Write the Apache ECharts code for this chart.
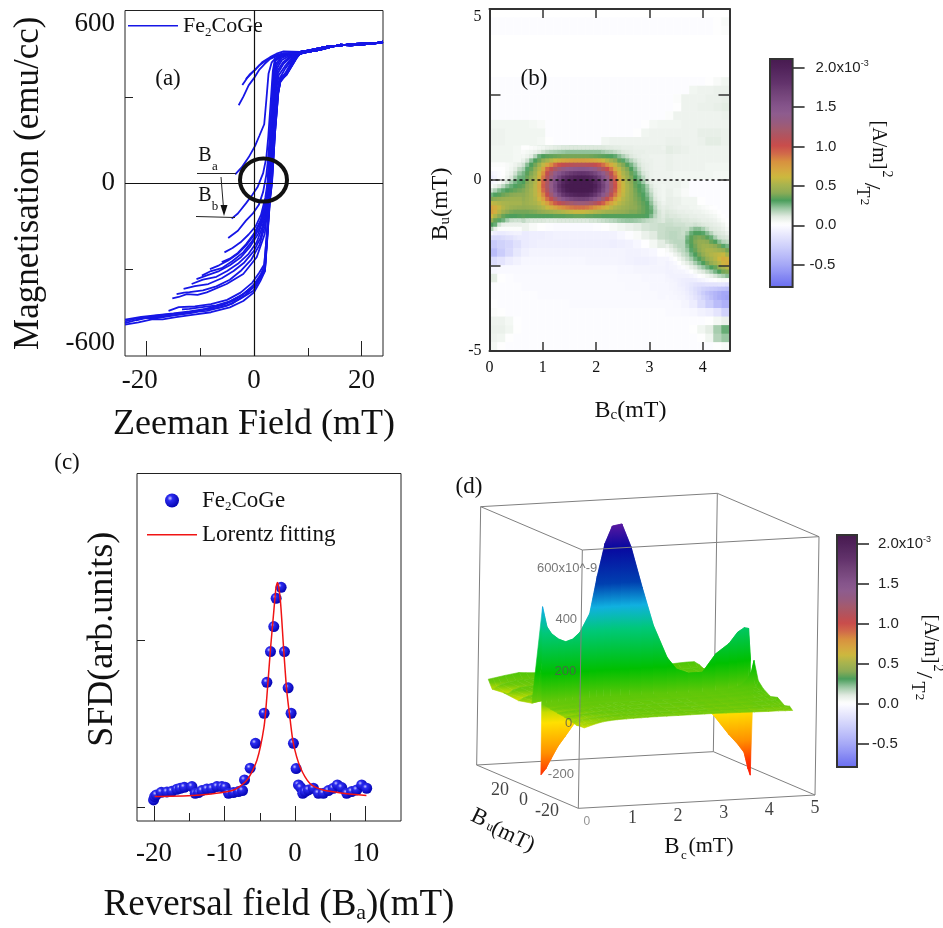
<!DOCTYPE html>
<html>
<head>
<meta charset="utf-8">
<title>Fe2CoGe FORC</title>
<script src="https://cdn.jsdelivr.net/npm/echarts@6/dist/echarts.min.js"></script>
<style>
html, body { margin: 0; padding: 0; background: #fff; }
#chart { width: 943px; height: 928px; }
</style>
</head>
<body>
<div id="chart"></div>
<script>
var SERIF = '"Liberation Serif", serif';
var SANS = '"Liberation Sans", sans-serif';

// (a) hysteresis, every reversal curve, shared saturation part at the end
var satTailA = [[8.6, 450], [10, 456], [12, 462], [14, 472], [16, 481], [18, 479], [20.5, 482], [22, 486], [24, 488]];
var satTailB = [[8.6, 456], [10, 461], [12, 468], [14, 476], [16, 478], [18, 483], [20.5, 486], [22, 484], [24, 492]];
var loopCurves = [
    [[-24, -486], [-22.5, -478], [-20.5, -468], [-18, -468], [-16, -462], [-12.5, -449], [-8.8, -443], [-5.1, -426], [-2.6, -402], [-0.1, -373], [1.1, -333], [2.04, -304], [2.54, -176], [2.97, -59], [3.35, 0], [3.9, 173], [4.52, 313], [4.96, 359], [6.07, 377], [7.93, 435]],
    [[-24, -474], [-21, -464], [-18, -458], [-15, -452], [-12, -445], [-9, -436], [-6, -424], [-3.5, -405], [-1, -372], [0.5, -342], [1.6, -312], [2.04, -298], [2.5, -170], [2.95, -50], [3.3, 10], [3.85, 178], [4.45, 318], [4.9, 362], [6, 382], [7.8, 436]],
    [[-24, -480], [-22, -470], [-19, -462], [-16.5, -456], [-14, -452], [-11, -448], [-8, -432], [-5, -415], [-2.5, -392], [-0.5, -362], [1, -330], [2, -302], [2.5, -172], [2.93, -55], [3.32, 5], [3.88, 175], [4.5, 315], [4.95, 360], [6.05, 380], [7.9, 436]],
    [[-24, -491], [-21.5, -483], [-19, -473], [-17, -473], [-14.5, -465], [-11.5, -457], [-8, -448], [-4.5, -431], [-2, -409], [0, -379], [1.2, -339], [2.02, -306], [2.52, -176], [2.96, -58], [3.33, 2], [3.9, 172], [4.5, 312], [4.94, 358], [6, 376], [7.9, 434]],
    [[-22, -476], [-19.5, -466], [-17, -462], [-14.5, -458], [-12, -452], [-9.5, -440], [-6.5, -432], [-4, -418], [-1.5, -386], [0.2, -356], [1.3, -322], [2, -300], [2.48, -168], [2.9, -48], [3.28, 12], [3.84, 180], [4.42, 318], [4.88, 364], [6, 384], [7.7, 437]],
    [[-15.9, -443], [-14, -430], [-11, -428], [-8, -420], [-5, -405], [-2.5, -380], [-0.3, -345], [1, -310], [1.9, -282], [2.45, -170], [2.9, -50], [3.25, 10], [3.8, 178], [4.4, 305], [4.85, 350], [6, 378], [7.8, 433]],
    [[-13.4, -438], [-12, -436], [-10, -431], [-7, -424], [-4.5, -410], [-2, -385], [0, -352], [1.2, -318], [1.9, -290], [2.4, -170], [2.85, -45], [3.2, 15], [3.75, 180], [4.35, 310], [4.8, 355], [6, 385], [7.6, 436]],
    [[-15.2, -400], [-14, -395], [-12.5, -385], [-10.5, -388], [-8.8, -379], [-5.1, -350], [-2, -315], [0.5, -257], [2, -176], [2.55, -83], [2.8, -20], [3.15, 40], [3.7, 185], [4.3, 300], [4.8, 350], [6, 388], [7.5, 438]],
    [[-14.4, -385], [-13, -380], [-12, -378], [-9.5, -372], [-7, -358], [-4.5, -335], [-2.5, -305], [-0.5, -265], [1, -215], [2, -150], [2.5, -65], [3.05, 40], [3.6, 190], [4.2, 305], [4.7, 362], [5.8, 398], [7.4, 438]],
    [[-13.1, -367], [-11, -357], [-8.5, -350], [-6, -330], [-3.8, -305], [-1.8, -275], [0, -235], [1.2, -190], [2, -130], [2.5, -50], [3, 40], [3.55, 195], [4.1, 320], [4.6, 375], [5.7, 405], [7.2, 440]],
    [[-11.6, -350], [-9.5, -335], [-7, -325], [-5, -305], [-3, -280], [-1, -245], [0.5, -205], [1.6, -150], [2.4, -60], [2.95, 40], [3.5, 200], [4, 330], [4.5, 385], [5.5, 415], [7, 442]],
    [[-10.7, -333], [-8.5, -318], [-6.5, -305], [-4.5, -285], [-2.5, -258], [-0.8, -222], [0.8, -175], [1.9, -115], [2.45, -40], [2.9, 40], [3.45, 205], [3.9, 335], [4.4, 392], [5.4, 420], [7, 444]],
    [[-9.7, -321], [-8, -305], [-6, -295], [-4, -270], [-2, -240], [-0.3, -200], [1, -155], [2, -95], [2.4, -30], [2.85, 50], [3.4, 210], [3.8, 340], [4.3, 400], [5.2, 428], [6.8, 445]],
    [[-8.2, -298], [-6.5, -285], [-4.8, -268], [-3, -245], [-1.3, -212], [0.2, -175], [1.4, -125], [2.2, -60], [2.6, 0], [2.85, 60], [3.35, 215], [3.75, 348], [4.2, 408], [5.1, 434], [6.6, 447]],
    [[-6, -274], [-4.5, -262], [-3, -242], [-1.5, -212], [0, -175], [1.2, -130], [2, -80], [2.5, -15], [2.8, 70], [3.3, 225], [3.7, 355], [4.1, 415], [5, 438], [6.5, 448]],
    [[-5.5, -240], [-4, -225], [-2.5, -205], [-1, -178], [0.3, -150], [1.3, -110], [2.1, -50], [2.5, 0], [2.75, 80], [3.25, 235], [3.6, 365], [4, 425], [5, 442], [6.5, 450]],
    [[-4.8, -190], [-3, -165], [-1.5, -130], [-0.2, -105], [0.9, -75], [1.7, -30], [2.3, 30], [2.7, 100], [3.2, 250], [3.55, 375], [3.95, 430], [5, 445], [6.5, 450]],
    [[-4.15, -123], [-3, -105], [-1.5, -70], [-0.3, -40], [0.7, -12], [1.7, 35], [2.3, 90], [2.65, 160], [3.1, 280], [3.5, 390], [3.9, 432], [5.5, 448]],
    [[-3.5, 31], [-2.3, 55], [-1, 90], [0.2, 130], [1, 165], [1.9, 205], [2.3, 290], [2.7, 380], [3.3, 420], [3.9, 432], [5.5, 450]],
    [[-2.85, 271], [-2, 300], [-1, 340], [0, 365], [1, 395], [2, 415], [3, 432], [4, 440], [5.5, 450]],
    [[-2.17, 341], [-1.3, 365], [-0.3, 385], [1, 410], [2.5, 430], [4, 444], [5.5, 452]],
    [[-1.5, 362], [-0.7, 380], [0.3, 395], [1.5, 420], [3, 438], [4.2, 450], [5.5, 458]]
];

// (b) field distribution, rows top to bottom from Bu 4.875 down to -4.875, unit 1e-5, null = blank
var bcCells = ['0.075', '0.225', '0.375', '0.525', '0.675', '0.825', '0.975', '1.125', '1.275', '1.425', '1.575', '1.725', '1.875', '2.025', '2.175', '2.325', '2.475', '2.625', '2.775', '2.925', '3.075', '3.225', '3.375', '3.525', '3.675', '3.825', '3.975', '4.125', '4.275', '4.425'];
var buCells = ['4.875', '4.625', '4.375', '4.125', '3.875', '3.625', '3.375', '3.125', '2.875', '2.625', '2.375', '2.125', '1.875', '1.625', '1.375', '1.125', '0.875', '0.625', '0.375', '0.125', '-0.125', '-0.375', '-0.625', '-0.875', '-1.125', '-1.375', '-1.625', '-1.875', '-2.125', '-2.375', '-2.625', '-2.875', '-3.125', '-3.375', '-3.625', '-3.875', '-4.125', '-4.375', '-4.625', '-4.875'];
var sfdRows = [
    null,
    [0,0,0,0,0,0,0,0,0,0,0,0,0,0,0,0,0,0,0,0,0,0,0,0,0,0,0,0,2,4],
    [0,0,0,0,0,0,0,0,0,0,0,0,0,0,0,0,0,0,0,0,0,0,0,0,0,0,0,0,2,3],
    null,
    null,
    null,
    null,
    null,
    [0,0,0,0,0,0,0,0,0,0,0,0,0,0,0,0,0,0,0,0,0,0,0,0,0,0,0,2,4,6],
    [0,0,0,0,0,0,0,0,0,0,0,0,0,0,0,0,0,0,0,0,0,0,0,0,0,6,7,7,8,8],
    [0,0,0,0,0,0,0,0,0,0,0,0,0,0,0,0,0,0,0,0,0,0,0,3,7,7,7,8,8,9],
    [0,0,0,0,0,0,0,0,0,0,0,0,0,0,0,0,0,0,0,0,0,0,0,2,7,7,8,8,9,10],
    [0,0,0,0,0,0,0,0,0,0,0,0,0,0,0,0,0,0,0,0,0,0,3,7,7,7,7,7,7,8],
    [6,6,6,6,6,5,4,0,0,0,0,0,0,0,0,0,0,0,0,2,5,6,6,6,7,7,7,7,7,7],
    [7,7,6,6,6,6,6,0,0,0,0,0,0,0,0,0,0,0,2,6,7,7,7,7,7,7,9,9,9,8],
    [7,7,6,6,6,6,5,2,0,0,0,0,0,0,6,7,7,7,7,7,7,7,8,8,7,7,8,10,10,8],
    [6,6,6,5,3,12,15,16,18,20,22,20,20,18,14,12,10,9,8,8,9,10,10,9,8,7,7,7,7,7],
    [6,6,6,5,11,25,32,38,42,45,48,48,48,45,40,33,22,14,9,8,8,8,8,7,7,7,7,7,7,7],
    [2,2,5,10,25,33,42,58,90,115,125,128,125,115,90,62,42,30,15,9,8,8,8,7,7,7,7,6,6,6],
    [-8,-2,8,18,32,45,65,100,150,178,195,200,195,178,150,108,70,52,38,20,10,8,7,6,6,6,6,6,5,5],
    [8,15,25,32,40,52,85,125,170,200,212,212,208,192,165,120,78,58,45,30,17,10,7,7,5,0,0,0,0,0],
    [28,34,38,42,46,55,82,120,155,185,200,205,200,185,155,115,78,58,46,33,18,12,8,6,4,0,0,0,0,0],
    [55,52,48,50,52,58,68,90,108,120,125,128,125,118,105,85,66,55,45,33,20,14,9,8,6,6,2,0,0,0],
    [72,58,45,42,43,45,48,52,55,58,60,60,60,58,55,52,50,46,42,34,20,15,11,9,8,7,6,5,1,0],
    [55,42,30,30,30,30,28,28,28,30,30,30,30,30,30,30,30,30,30,28,20,16,12,11,10,9,8,6,4,1],
    [30,10,8,8,7,4,2,0,-1,-1,-1,-1,-1,0,2,4,6,8,10,13,14,15,14,13,12,12,10,9,7,4],
    [-10,-16,-18,-14,-10,-8,-8,-7,-6,-6,-6,-6,-6,-6,-6,-6,-3,0,4,8,11,15,17,15,14,25,28,22,14,10],
    [-30,-25,-22,-16,-10,-8,-7,-7,-7,-7,-7,-7,-7,-7,-7,-8,-7,-6,-3,1,5,10,15,17,18,33,38,40,36,30],
    [-38,-28,-20,-12,-7,-5,-5,-5,-5,-5,-5,-5,-5,-5,-5,-5,-5,-6,-6,-5,-3,1,6,12,16,28,40,48,52,55],
    [-18,-14,-9,-6,-3,-3,-3,-3,-3,-3,-3,-3,-4,-4,-4,-4,-5,-6,-7,-7,-6,-4,-1,3,9,15,24,38,50,62],
    [-3,-2,-2,-2,-2,-2,-2,-2,-2,-2,-2,-2,-2,-2,-2,-2,-3,-3,-4,-4,-5,-5,-5,-3,0,4,9,15,30,40],
    [10,2,0,-1,-1,-1,-1,-1,-1,-1,-1,-1,-1,-1,-1,-1,-2,-2,-2,-3,-3,-3,-4,-5,-8,-6,-2,2,8,15],
    [0,0,0,0,-1,-1,-1,-1,-1,-1,-1,-1,-1,-1,-1,-1,-1,-2,-2,-2,-3,-3,-4,-5,-8,-14,-18,-18,-18,-20],
    [0,0,0,0,0,0,-1,-1,-1,-1,-1,-1,-1,-1,-1,-1,-1,-1,-1,-2,-2,-3,-4,-5,-7,-14,-26,-34,-42,-45],
    [1,0,0,0,0,0,0,0,0,0,-1,-1,-1,-1,-1,-1,-1,-1,-1,-1,-1,-1,-1,-2,-4,-9,-18,-28,-38,-45],
    [3,2,0,0,0,0,0,0,0,0,0,0,0,0,0,0,0,0,0,0,0,0,-1,-1,-2,-3,-6,-8,-14,-25],
    [7,7,5,1,0,0,0,0,0,0,0,0,0,0,0,0,0,0,0,0,0,0,0,0,0,0,0,2,5,8],
    [8,8,6,2,0,0,0,0,0,0,0,0,0,0,0,0,0,0,0,0,0,0,0,0,0,2,6,10,20,28],
    [7,6,2,0,0,0,0,0,0,0,0,0,0,0,0,0,0,0,0,0,0,0,0,0,0,0,2,6,18,22],
    [5,2,0,0,0,0,0,0,0,0,0,0,0,0,0,0,0,0,0,0,0,0,0,0,0,0,0,0,2,4]
];
// finer readings where the picture changes fast
// central lobe: Bc 0.6 to 3.3 in 36 cells, Bu 1 to -1.25 in 18 cells
var sfdLobeRows = [
    [2,2,3,4,5,6,8,9,10,11,12,12,12,12,12,12,12,12,12,12,12,11,11,10,10,9,9,9,8,8,8,8,8,8,8,7],
    [4,5,6,8,11,14,17,19,20,21,22,23,23,23,23,23,23,23,23,23,21,19,18,16,14,12,11,10,9,9,9,8,8,8,8,8],
    [5,7,10,18,28,32,34,35,36,37,38,38,38,38,38,38,38,37,36,35,34,33,31,29,24,19,15,12,10,9,8,8,7,7,7,7],
    [8,14,24,32,37,44,50,56,62,66,70,72,74,75,75,75,74,72,70,66,61,55,49,43,35,30,24,18,14,11,9,8,8,7,7,7],
    [14,24,32,38,48,58,70,82,92,100,105,108,110,112,112,112,110,108,104,98,90,80,68,58,48,40,33,26,19,13,10,9,8,7,7,7],
    [20,30,36,44,55,72,92,106,118,128,135,140,144,146,148,148,146,142,136,126,114,102,88,70,58,48,40,32,24,16,11,9,8,7,7,7],
    [26,34,40,48,60,82,105,122,138,150,160,168,174,178,180,180,178,172,164,152,140,124,106,84,64,52,44,36,28,20,13,10,8,7,7,7],
    [28,37,43,51,65,88,112,130,150,166,180,190,196,200,202,202,200,194,184,170,154,134,114,92,70,56,47,39,32,25,17,11,8,7,7,7],
    [32,40,46,54,70,94,116,136,158,178,194,204,210,214,216,216,214,208,196,182,164,142,120,98,74,59,50,42,35,29,21,13,9,7,7,7],
    [36,42,48,56,72,96,118,138,162,184,200,210,216,220,222,222,220,214,202,186,168,146,122,100,76,60,52,44,36,32,28,20,12,8,7,6],
    [40,44,50,56,70,92,114,134,158,178,194,206,212,216,218,218,216,208,196,180,162,140,118,96,74,60,52,45,38,33,29,22,14,9,7,6],
    [42,46,50,56,66,84,104,124,144,162,178,188,194,198,200,200,198,190,178,164,146,128,108,88,70,58,51,45,39,35,31,25,17,10,7,6],
    [44,47,50,54,62,74,90,106,122,136,150,158,164,168,170,170,168,160,150,138,122,106,90,74,62,55,50,45,40,37,33,28,20,12,8,6],
    [46,48,50,52,56,64,74,86,96,106,112,118,122,126,128,128,126,120,114,106,94,82,72,62,56,52,48,44,41,38,35,31,23,14,10,7],
    [44,45,46,47,50,54,60,66,72,78,82,85,88,90,90,90,88,85,80,75,68,62,57,53,50,48,46,43,42,39,36,33,27,17,11,9],
    [38,38,39,40,42,44,46,48,50,52,54,56,58,60,60,60,58,56,54,52,50,48,47,46,45,44,42,40,40,38,36,33,29,19,13,10],
    [34,33,33,33,33,33,33,33,34,34,34,35,35,36,36,36,35,35,34,34,33,33,33,33,33,33,33,33,33,33,33,31,25,17,13,11],
    [16,13,12,12,12,12,11,11,11,12,12,12,12,12,12,12,12,13,13,14,15,16,17,18,20,21,22,22,21,20,18,16,15,14,13,12]
];
// left ridge: Bc 0 to 0.6 in 8 cells, Bu 0.5 to -1.75 in 18 cells
var sfdLeftRows = [
    [3,3,3,3,4,5,7,10],
    [1,1,1,2,4,6,10,16],
    [-4,-2,0,2,5,8,14,22],
    [-8,-4,0,3,7,12,20,27],
    [-4,-1,3,7,13,20,26,30],
    [4,7,12,17,24,28,31,34],
    [14,19,25,29,32,34,36,38],
    [27,31,34,37,39,41,42,43],
    [40,42,44,46,47,48,48,48],
    [58,56,54,52,51,50,50,50],
    [72,68,60,54,50,47,46,45],
    [74,66,55,47,42,39,38,38],
    [62,52,42,36,33,32,32,33],
    [45,36,30,27,20,15,14,14],
    [32,28,14,9,8,8,8,8],
    [18,8,3,3,3,3,3,3],
    [-4,-8,-10,-10,-8,-7,-6,-6],
    [-18,-20,-20,-18,-16,-15,-12,-10]
];
// right lobe: Bc 3.3 to 4.5 in 16 cells, Bu -0.75 to -3.5 in 22 cells
var sfdRightRows = [
    [10,9,8,7,7,7,6,6,5,4,3,2,1,0,0,0],
    [12,11,10,9,9,8,8,7,7,6,5,4,3,1,0,0],
    [13,12,12,11,10,10,9,9,8,8,7,6,5,3,1,0],
    [14,14,13,13,12,12,11,11,10,9,9,8,7,5,3,1],
    [15,15,14,14,14,13,13,14,13,12,11,10,9,8,6,3],
    [16,16,16,16,15,15,20,24,24,20,15,12,11,10,8,5],
    [16,17,17,16,15,20,28,32,32,30,24,18,13,12,11,8],
    [16,17,17,16,16,26,34,38,40,38,34,28,20,14,13,12],
    [14,16,17,17,17,28,34,40,44,44,42,36,32,24,18,16],
    [8,12,15,17,17,25,33,38,44,48,48,46,42,38,30,26],
    [4,8,12,15,17,22,30,36,42,48,52,52,50,48,45,38],
    [0,3,7,11,15,18,26,32,38,44,50,54,56,58,60,50],
    [-4,-1,2,6,11,15,20,27,33,38,45,50,55,62,68,65],
    [-6,-4,-2,2,6,10,14,20,26,32,38,44,50,56,64,68],
    [-6,-5,-4,-2,0,4,8,12,17,22,27,32,36,44,50,56],
    [-6,-6,-5,-5,-4,-2,1,5,9,12,16,20,26,32,38,40],
    [-5,-6,-6,-6,-6,-6,-4,-2,1,3,6,9,13,17,20,24],
    [-4,-5,-6,-7,-8,-9,-9,-8,-6,-4,-2,0,2,3,4,3],
    [-3,-4,-5,-7,-8,-10,-12,-14,-15,-15,-14,-14,-14,-13,-14,-16],
    [-3,-4,-5,-6,-7,-10,-13,-17,-20,-24,-26,-28,-30,-32,-34,-36],
    [-3,-3,-4,-5,-6,-8,-12,-16,-22,-28,-34,-38,-42,-46,-50,-50],
    [-2,-3,-3,-4,-5,-7,-10,-14,-18,-24,-30,-36,-42,-47,-50,-52]
];
var colorbarColors = ['#6a6ef0', '#7f82f2', '#9497f5', '#a8abf7', '#babcf9', '#cbcdfb', '#dcddfc', '#eeeefe', '#ffffff', '#dfe9df', '#9cc7a4', '#4a9e5c', '#8dab55', '#a8b44e', '#cdb83e', '#d6a540', '#d8903f', '#d1684a', '#c94c4b', '#b5525a', '#a55a6c', '#965b80', '#8e5c8e', '#85548b', '#7a4a80', '#6e3f75', '#62326b', '#582a62', '#4f2158', '#471b50'];

// (c) switching field distribution
var sfdField = [-20.05, -19.9, -19.67, -18.96, -18.16, -17.45, -16.75, -16.27, -15.7, -14.62, -14.15, -13.68, -13.2, -12.5, -11.8, -11.08, -10.38, -9.9, -9.43, -8.73, -8.02, -7.45, -7.17, -6.37, -5.61, -4.39, -4, -3.49, -3.02, -2.69, -1.98, -1.51, -0.99, -0.57, -0.24, 0.14, 0.47, 0.8, 1.08, 1.42, 1.89, 2.59, 3.3, 4, 4.72, 5.42, 5.99, 6.6, 7.31, 8.02, 8.73, 9.43, 10.14];
var sfdValue = [0.046, 0.066, 0.076, 0.092, 0.094, 0.098, 0.11, 0.116, 0.122, 0.126, 0.086, 0.09, 0.102, 0.112, 0.114, 0.126, 0.126, 0.122, 0.086, 0.09, 0.096, 0.102, 0.166, 0.236, 0.385, 0.565, 0.75, 0.934, 1.084, 1.253, 1.319, 0.934, 0.717, 0.565, 0.385, 0.234, 0.136, 0.12, 0.086, 0.096, 0.106, 0.116, 0.086, 0.086, 0.102, 0.116, 0.136, 0.12, 0.086, 0.096, 0.106, 0.136, 0.116];
var fitField = [-19.9, -13.5, -8.7, -6.8, -5.4, -4.4, -4, -3.5, -3, -2.7, -2.5, -2.1, -1.65, -1.2, -0.7, -0.25, 0.7, 2.1, 4, 6.8, 10.1];
var fitValue = [0.066, 0.076, 0.106, 0.166, 0.285, 0.485, 0.665, 0.945, 1.185, 1.32, 1.347, 1.245, 0.966, 0.706, 0.525, 0.385, 0.245, 0.145, 0.105, 0.086, 0.072];

// (d) surface seen in the 3D view, z in 1e-9, rows back to front
var surfBc = [0, 0.1, 0.2, 0.35, 0.5, 0.65, 0.8, 1, 1.15, 1.3, 1.45, 1.65, 1.85, 2.1, 2.35, 2.65, 2.85, 3.1, 3.4, 3.7, 4, 4.2, 4.35, 4.45, 4.5];
var ridgeBu = [-9.6, -9.6, -9.6, -9.6, -9.6, -9.6, -9.6, -9.6, -9.6, -9.6, -9.6, -9.6, -9.6, -9.6, -9.6, -9.6, -9.6, -9.6, -9.6, -8.8, -8, -7.2, -6.8, -6.4, -6.4];
var troughBu = [-10.4, -10.4, -10.4, -10.4, -10.4, -10.4, -10.4, -10.4, -10.4, -10.4, -10.4, -10.4, -10.4, -10.4, -10.4, -10.4, -10.4, -10.4, -10.4, -9.6, -8.8, -8.4, -8, -7.6, -7.6];
var lipBu = [-11.2, -11.2, -11.2, -11.2, -11.2, -11.2, -11.2, -11.2, -11.2, -11.2, -11.2, -11.2, -11.2, -11.2, -11.2, -11.2, -11.2, -11.2, -11.2, -10.8, -10.4, -10, -9.6, -9.2, -9.2];
var surfRows = [
    { bu: 32, z: [19, 22, 25, 30, 34, 38, 36, 34, 30, 28, 26, 25, 24, 22, 20, 20, 22, 25, 30, 36, 40, 42, 42, 30, 11] },
    { bu: 28.8, z: [-13, -5, 5, 10, 15, 18, 18, 18, 16, 15, 15, 14, 14, 14, 14, 14, 15, 16, 18, 22, 24, 26, 26, 22, 14] },
    { bu: 20, z: [-8, -13, 0, 8, 12, 14, 15, 15, 14, 14, 13, 13, 12, 12, 12, 12, 14, 16, 18, 20, 22, 24, 24, 22, 18] },
    { bu: 8, z: [-14, -5, 2, 8, 10, 12, 12, 12, 12, 12, 12, 12, 12, 12, 12, 12, 12, 12, 14, 16, 18, 18, 18, 16, 14] },
    { bu: -2.4, z: [-2, 2, 5, 8, 10, 12, 14, 20, 30, 40, 45, 45, 40, 30, 22, 18, 15, 15, 18, 25, 30, 35, 35, 30, 20] },
    { bu: ridgeBu, z: [387, 308, 280, 258, 246, 255, 280, 350, 495, 618, 684, 690, 600, 440, 290, 163, 116, 98, 98, 165, 200, 240, 255, 250, 130] },
    { bu: troughBu, z: [-262, -240, -205, -155, -118, -80, -45, -15, 0, 5, 5, 5, 5, 5, 5, 5, 5, 5, -20, -82, -150, -190, -225, -290, -316] },
    { bu: lipBu, z: [12, 14, 16, 18, 20, 22, 24, 26, 28, 28, 28, 28, 28, 26, 26, 24, 24, 24, 24, 26, 30, 40, 60, 90, 132] },
    { bu: -12.8, z: [10, 12, 14, 16, 18, 20, 20, 22, 22, 22, 22, 22, 22, 22, 22, 20, 20, 20, 20, 22, 26, 30, 34, 36, 60] },
    { bu: -16.8, z: [6, 8, 10, 12, 14, 16, 18, 18, 18, 18, 18, 18, 18, 18, 18, 18, 18, 18, 18, 20, 22, 25, 28, 30, 38] },
    { bu: -22.4, z: [2, 4, 6, 8, 10, 12, 14, 14, 16, 16, 16, 16, 16, 16, 16, 16, 14, 14, 14, 15, 18, 20, 22, 24, 20] },
    { bu: -28, z: [-2, 0, 2, 5, 8, 10, 12, 12, 14, 14, 14, 14, 14, 12, 12, 12, 12, 12, 12, 14, 15, 16, 16, 16, 28] },
    { bu: -33.6, z: [-8, -5, -2, 2, 5, 7, 9, 10, 11, 11, 11, 11, 11, 10, 10, 10, 10, 10, 10, 11, 12, 12, 12, 12, 8] },
    { bu: -37.6, z: [-14, -12, -8, -4, 0, 3, 5, 6, 7, 7, 7, 7, 7, 7, 8, 8, 8, 7, 7, 6, 6, 6, 6, 6, 14] },
    { bu: -40, z: [-12, -20, -14, -6, 0, 3, 5, 6, 7, 7, 8, 8, 8, 8, 8, 8, 8, 7, 6, 5, 4, 4, 3, 3, 2] }
];
var surfStopZ = [-330, -262, -178, -62, -20, 10, 128, 283, 373, 463, 600, 700];
var surfStopColor = ['#ff1000', '#ff3000', '#ff9000', '#ffe000', '#c8dc00', '#6cc80a', '#00c000', '#00c878', '#10b0e0', '#0040b0', '#0808a0', '#601aa0'];
var boxEdgesBack = [[0, 40, -330, 0, 40, 670], [5, 40, -330, 5, 40, 670], [0, 40, -330, 5, 40, -330], [0, 40, -330, 0, -40, -330], [5, 40, -330, 5, -40, -330]];
var boxEdgesFront = [[0, 40, 670, 5, 40, 670], [0, 40, 670, 0, -40, 670], [5, 40, 670, 5, -40, 670], [0, -40, -330, 0, -40, 670], [5, -40, -330, 5, -40, 670], [0, -40, 670, 5, -40, 670], [0, -40, -330, 5, -40, -330]];
var zTicks = [-200, 0, 200, 400, 600];
var bcTicks = [0, 1, 2, 3, 4, 5];
var buTicks = [20, 0, -20];

// box of panel d as drawn: Bc to the right, Bu to the back, z upwards
function project(bc, bu, z) {
    var a = bc / 5, b = (bu + 40) / 80, c = (z + 330) / 1000;
    return [710 * a - 305 * b + 12 * c, 40 * a + 130 * b + 775 * c];
}

var subRich = function (size, sub) {
    return { s: { fontFamily: SERIF, fontSize: sub, verticalAlign: 'bottom', padding: [Math.round(size * 0.28), 0, 0, 0], lineHeight: size, color: '#111' } };
};
var nameStyle = function (size, sub, padding) {
    return { fontFamily: SERIF, fontSize: size, color: '#111', padding: padding || 0, rich: subRich(size, sub) };
};
var tickFont = function (size, margin) {
    return { fontFamily: SERIF, fontSize: size, color: '#111', margin: margin };
};

var grids = [
    { left: 125, top: 10.5, width: 258, height: 345.5, show: true, borderColor: '#222', borderWidth: 1 },
    { left: 489.5, top: 9, width: 240, height: 342 },
    { left: 137, top: 473.5, width: 264, height: 347.5, show: true, borderColor: '#222', borderWidth: 1 },
    { left: 470, top: 490, width: 350, height: 330 },
    { left: 770, top: 59, width: 22.6, height: 228 },
    { left: 837, top: 535, width: 20, height: 232 },
    { left: 521.5, top: 145.8, width: 144, height: 76.95 },
    { left: 489.5, top: 162.9, width: 32, height: 76.95 },
    { left: 665.5, top: 205.65, width: 64, height: 94.05 }
];

var hiddenValue = function (grid, min, max) {
    return { type: 'value', gridIndex: grid, min: min, max: max, show: false };
};
var cellNames = function (n) {
    var names = [];
    for (var i = 0; i < n; i++) names.push(String(i));
    return names;
};
var thinLine = { lineStyle: { color: '#222', width: 1 } };
var noLine = { show: false, onZero: false };
var boxLine = { onZero: false, lineStyle: { color: '#333', width: 2 } };

var xAxes = [
    // 0,1 panel a
    { type: 'value', gridIndex: 0, position: 'bottom', min: -24, max: 24, name: 'Zeeman Field (mT)', nameLocation: 'middle', nameGap: 51, nameTextStyle: nameStyle(36, 20),
        axisLine: noLine, splitLine: { show: false },
        axisTick: { inside: true, length: 15, customValues: [-20, 0, 20], lineStyle: thinLine.lineStyle },
        axisLabel: Object.assign(tickFont(27, 11), { customValues: [-20, 0, 20], formatter: function (v) { return v === -20 ? '-20\u00a0\u00a0' : String(v); } }) },
    { type: 'value', gridIndex: 0, position: 'bottom', min: -24, max: 24, axisLine: noLine, splitLine: { show: false }, axisLabel: { show: false },
        axisTick: { inside: true, length: 8, customValues: [-10, 10], lineStyle: thinLine.lineStyle } },
    // 2 heatmap cells, 3,4 panel b scale
    { type: 'category', gridIndex: 1, data: bcCells, show: false },
    { type: 'value', gridIndex: 1, position: 'bottom', min: 0, max: 4.5, z: 5, name: 'B{s|c}(mT)', nameLocation: 'middle', nameGap: 48, nameTextStyle: nameStyle(24, 15, [0, 0, 0, 42]),
        axisLine: boxLine, splitLine: { show: false },
        axisTick: { inside: true, length: 9, customValues: [1, 2, 3, 4], lineStyle: { color: '#333', width: 1.5 } },
        axisLabel: Object.assign(tickFont(16, 9), { customValues: [0, 1, 2, 3, 4] }) },
    { type: 'value', gridIndex: 1, position: 'top', min: 0, max: 4.5, z: 5,
        axisLine: boxLine, splitLine: { show: false }, axisLabel: { show: false },
        axisTick: { inside: true, length: 9, customValues: [1, 2, 3, 4], lineStyle: { color: '#333', width: 1.5 } } },
    // 5,6 panel c
    { type: 'value', gridIndex: 2, position: 'bottom', min: -22.4, max: 15, name: 'Reversal field (B{s|a})(mT)', nameLocation: 'middle', nameGap: 66, nameTextStyle: nameStyle(37, 22, [0, 0, 0, 20]),
        axisLine: noLine, splitLine: { show: false },
        axisTick: { inside: true, length: 15, customValues: [-20, -10, 0, 10], lineStyle: thinLine.lineStyle },
        axisLabel: Object.assign(tickFont(27, 19), { customValues: [-20, -10, 0, 10] }) },
    { type: 'value', gridIndex: 2, position: 'bottom', min: -22.4, max: 15, axisLine: noLine, splitLine: { show: false }, axisLabel: { show: false },
        axisTick: { inside: true, length: 8, customValues: [-15, -5, 5], lineStyle: thinLine.lineStyle } },
    // 7 panel d scene, 8,9 colorbars, 10-12 fine cells of panel b
    hiddenValue(3, -325, 725),
    hiddenValue(4, 0, 1),
    hiddenValue(5, 0, 1),
    { type: 'category', gridIndex: 6, data: cellNames(sfdLobeRows[0].length), show: false },
    { type: 'category', gridIndex: 7, data: cellNames(sfdLeftRows[0].length), show: false },
    { type: 'category', gridIndex: 8, data: cellNames(sfdRightRows[0].length), show: false }
];

var colorbarAxes = function (grid, min, max, margin) {
    var tickStyle = { length: 12, lineStyle: { color: '#222', width: 1.5 } };
    return [
        { type: 'value', gridIndex: grid, position: 'right', min: min, max: max, z: 6, axisLine: noLine, splitLine: { show: false },
            axisTick: Object.assign({ customValues: [-0.5, 0, 0.5, 1, 1.5, 2] }, tickStyle),
            axisLabel: { customValues: [0, 0.5, 1, 1.5, 2], margin: margin, fontFamily: SANS, fontSize: 15, color: '#222', align: 'left',
                formatter: function (v) { return v === 2 ? '2.0x10{u|-3}' : v.toFixed(1); },
                rich: { u: { fontFamily: SANS, fontSize: 9, verticalAlign: 'top', color: '#222', padding: [0, 0, 8, 0] } } } },
        { type: 'value', gridIndex: grid, position: 'right', min: min, max: max, z: 6, axisLine: noLine, splitLine: { show: false }, axisTick: { show: false },
            axisLabel: { customValues: [-0.5], margin: margin - 6, fontFamily: SANS, fontSize: 15, color: '#222', align: 'left', formatter: function (v) { return v.toFixed(1); } } }
    ];
};

var yAxes = [
    // 0 panel a
    { type: 'value', gridIndex: 0, min: -600, max: 600, name: 'Magnetisation (emu/cc)', nameLocation: 'middle', nameGap: 79, nameTextStyle: nameStyle(35, 20),
        axisLine: noLine, splitLine: { show: false },
        axisTick: { inside: true, length: 8, customValues: [-300, 300], lineStyle: thinLine.lineStyle },
        axisLabel: Object.assign(tickFont(27, 10), { customValues: [-600, 0, 600], verticalAlignMinLabel: 'bottom', verticalAlignMaxLabel: 'top' }) },
    // 1 heatmap cells, 2,3 panel b scale
    { type: 'category', gridIndex: 1, data: buCells.slice().reverse(), show: false },
    { type: 'value', gridIndex: 1, position: 'left', min: -5, max: 5, z: 5, name: 'B{s|u}(mT)', nameLocation: 'middle', nameGap: 37, nameTextStyle: nameStyle(24, 15, [0, 48, 0, 0]),
        axisLine: boxLine, splitLine: { show: false },
        axisTick: { inside: true, length: 11, customValues: [-2.5, 0, 2.5], lineStyle: { color: '#333', width: 1.5 } },
        axisLabel: Object.assign(tickFont(16, 8), { customValues: [-5, 0, 5], verticalAlignMaxLabel: 'top' }) },
    { type: 'value', gridIndex: 1, position: 'right', min: -5, max: 5, z: 5,
        axisLine: boxLine, splitLine: { show: false }, axisLabel: { show: false },
        axisTick: { inside: true, length: 11, customValues: [-2.5, 0, 2.5], lineStyle: { color: '#333', width: 1.5 } } },
    // 4 panel c
    { type: 'value', gridIndex: 2, min: -0.08, max: 2, name: 'SFD(arb.units)', nameLocation: 'middle', nameGap: 16, nameTextStyle: nameStyle(36, 20, [0, 0, 0, 16]),
        axisLine: noLine, splitLine: { show: false }, axisLabel: { show: false },
        axisTick: { inside: true, length: 8, customValues: [0, 1], lineStyle: thinLine.lineStyle } },
    // 5 panel d scene
    hiddenValue(3, -35, 955)
].concat(colorbarAxes(4, -0.783, 2.11, 23), colorbarAxes(5, -0.79, 2.11, 21), [
    // 10-12 fine cells of panel b
    { type: 'category', gridIndex: 6, data: cellNames(sfdLobeRows.length), show: false },
    { type: 'category', gridIndex: 7, data: cellNames(sfdLeftRows.length), show: false },
    { type: 'category', gridIndex: 8, data: cellNames(sfdRightRows.length), show: false }
]);

var series = [];

// panel a
loopCurves.forEach(function (curve, i) {
    var s = {
        name: 'Fe2CoGe', type: 'line', xAxisIndex: 0, yAxisIndex: 0, symbol: 'none', silent: true,
        data: curve.concat(i % 2 ? satTailB : satTailA), lineStyle: { color: '#1616e6', width: 1.8 }, itemStyle: { color: '#1616e6' }
    };
    if (i === 0) {
        s.markLine = { silent: true, symbol: 'none', animation: false, label: { show: false }, lineStyle: { color: '#111', width: 1.2, type: 'solid' },
            data: [{ xAxis: 0 }, { yAxis: 0 }] };
    }
    series.push(s);
});

// panel b
var heatCells = function (rows) {
    var cells = [];
    rows.forEach(function (row, j) {
        if (!row) return;
        row.forEach(function (v, i) {
            cells.push([i, rows.length - 1 - j, v / 100]);
        });
    });
    return cells;
};
var heatIndex = series.length;
series.push({ type: 'heatmap', xAxisIndex: 2, yAxisIndex: 1, data: heatCells(sfdRows), silent: true, progressive: 0 });
series.push({ type: 'heatmap', xAxisIndex: 10, yAxisIndex: 10, data: heatCells(sfdLobeRows), silent: true, progressive: 0 });
series.push({ type: 'heatmap', xAxisIndex: 11, yAxisIndex: 11, data: heatCells(sfdLeftRows), silent: true, progressive: 0 });
series.push({ type: 'heatmap', xAxisIndex: 12, yAxisIndex: 12, data: heatCells(sfdRightRows), silent: true, progressive: 0 });
series.push({ type: 'line', xAxisIndex: 3, yAxisIndex: 2, symbol: 'none', silent: true, z: 4,
    data: [[0, 0], [4.5, 0]], lineStyle: { color: '#111', width: 1.3, type: [3, 3] } });

// panel c
var sphere = new echarts.graphic.RadialGradient(0.36, 0.34, 0.62, [
    { offset: 0, color: '#c8c8ff' }, { offset: 0.3, color: '#2c2cf0' }, { offset: 1, color: '#0808b8' }
]);
series.push({ name: 'Fe2CoGe SFD', type: 'scatter', xAxisIndex: 5, yAxisIndex: 4, symbol: 'circle', symbolSize: 11, silent: true,
    data: sfdField.map(function (x, i) { return [x, sfdValue[i]]; }), itemStyle: { color: sphere, opacity: 1 } });
series.push({ name: 'Lorentz fitting', type: 'line', xAxisIndex: 5, yAxisIndex: 4, symbol: 'none', smooth: 0.25, silent: true, z: 4,
    data: fitField.map(function (x, i) { return [x, fitValue[i]]; }), lineStyle: { color: '#f01414', width: 1.5 }, itemStyle: { color: '#f01414' } });

// panel d: box, surface quads back to front, then the front edges
var edgeSeries = function (edges, z) {
    return {
        type: 'custom', xAxisIndex: 7, yAxisIndex: 5, silent: true, z: z, clip: false,
        data: edges.map(function (e) { return project(e[0], e[1], e[2]); }),
        renderItem: function (params, api) {
            var e = edges[params.dataIndex];
            var p1 = api.coord(project(e[0], e[1], e[2]));
            var p2 = api.coord(project(e[3], e[4], e[5]));
            return { type: 'line', shape: { x1: p1[0], y1: p1[1], x2: p2[0], y2: p2[1] }, style: { stroke: '#808080', lineWidth: 1 } };
        }
    };
};
var rowBu = function (row, col) {
    return Array.isArray(row.bu) ? row.bu[col] : row.bu;
};
var quads = [];
for (var r = 0; r < surfRows.length - 1; r++) {
    for (var q = 0; q < surfBc.length - 1; q++) {
        var back = surfRows[r], front = surfRows[r + 1];
        quads.push([
            [surfBc[q], rowBu(back, q), back.z[q]],
            [surfBc[q + 1], rowBu(back, q + 1), back.z[q + 1]],
            [surfBc[q + 1], rowBu(front, q + 1), front.z[q + 1]],
            [surfBc[q], rowBu(front, q), front.z[q]]
        ]);
    }
}
var surfLo = surfStopZ[0], surfHi = surfStopZ[surfStopZ.length - 1];
var surfStops = surfStopZ.map(function (z, i) {
    return { offset: (z - surfLo) / (surfHi - surfLo), color: surfStopColor[i] };
});
series.push(edgeSeries(boxEdgesBack, 1));
series.push({
    type: 'custom', xAxisIndex: 7, yAxisIndex: 5, silent: true, z: 2, clip: false, progressive: 0,
    data: quads.map(function (c) { return project(c[0][0], c[0][1], c[0][2]); }),
    renderItem: function (params, api) {
        var corners = quads[params.dataIndex];
        var points = corners.map(function (c) { return api.coord(project(c[0], c[1], c[2])); });
        var midBc = (corners[0][0] + corners[1][0]) / 2;
        var midBu = (corners[0][1] + corners[3][1]) / 2;
        var lo = api.coord(project(midBc, midBu, surfLo));
        var hi = api.coord(project(midBc, midBu, surfHi));
        var fill = new echarts.graphic.LinearGradient(lo[0], lo[1], hi[0], hi[1], surfStops, true);
        return { type: 'polygon', shape: { points: points }, style: { fill: fill, stroke: fill, lineWidth: 0.6 } };
    }
});
series.push(edgeSeries(boxEdgesFront, 3));

var tickLabels = function (items) {
    return { type: 'scatter', xAxisIndex: 7, yAxisIndex: 5, symbolSize: 0, silent: true, z: 5, data: items };
};
var labelItem = function (point, text, color, family, size, offset) {
    return { value: point, label: { show: true, position: 'inside', formatter: text, color: color, fontFamily: family, fontSize: size, offset: offset } };
};
series.push(tickLabels(
    zTicks.map(function (z) {
        return labelItem(project(0, -40, z), z === 600 ? '600x10^-9' : String(z), '#555', SANS, 13, z === 600 ? [-15, 0] : [z === 0 ? -11 : z === -200 ? -18 : -15, 0]);
    }).concat(bcTicks.map(function (b) {
        return labelItem(project(b, -40, -330), String(b), b === 0 ? '#777' : '#111', b === 0 ? SANS : SERIF, b === 0 ? 12 : 18, [(5 - b) * 1.7, 13]);
    }), buTicks.map(function (b) {
        return labelItem(project(0, b, -330), String(b), '#111', SERIF, 18, [-2 + (b - 20) * 0.1, 14]);
    }))
));

// texts and marks that are not tied to an axis
var text = function (str, x, y, size, extra) {
    var style = Object.assign({ text: str, fontFamily: SERIF, fontSize: size, fill: '#111', align: 'center', verticalAlign: 'middle' }, (extra && extra.style) || {});
    return { type: 'text', x: x, y: y, rotation: (extra && extra.rotation) || 0, z: 100, style: style };
};
var segment = function (x1, y1, x2, y2, width, color) {
    return { type: 'line', z: 100, shape: { x1: x1, y1: y1, x2: x2, y2: y2 }, style: { stroke: color || '#222', lineWidth: width || 1 } };
};
var cw = -Math.PI / 2;
var graphicElements = [
    text('(a)', 168, 79, 23),
    text('(b)', 534, 79, 23),
    text('(c)', 67, 463, 23),
    text('(d)', 469, 487, 23),
    text('B', 205, 156, 20), text('a', 215, 167, 13),
    text('B', 205, 196, 20), text('b', 215, 207, 13),
    segment(197, 173.5, 236, 173.5),
    segment(196, 216.5, 235, 217.5),
    segment(221, 177, 223.5, 208),
    { type: 'polygon', z: 100, shape: { points: [[224, 216], [220.5, 205], [227.5, 205]] }, style: { fill: '#111' } },
    { type: 'ellipse', z: 100, shape: { cx: 263.5, cy: 180, rx: 23.5, ry: 21.5 }, style: { fill: 'none', stroke: '#111', lineWidth: 4 } },
    { type: 'rect', z: 100, shape: { x: 770, y: 59, width: 22.6, height: 228 }, style: { fill: 'none', stroke: '#333', lineWidth: 2 } },
    { type: 'rect', z: 100, shape: { x: 837, y: 535, width: 20, height: 232 }, style: { fill: 'none', stroke: '#333', lineWidth: 2 } },
    text('[A/m]', 878, 145, 20, { rotation: cw }), text('2', 887, 174, 14, { rotation: cw }),
    text('/', 871, 186, 24, { rotation: cw }), text('T', 862, 192, 18, { rotation: cw }), text('2', 864, 202, 13, { rotation: cw }),
    text('[A/m]', 930, 639, 20, { rotation: cw }), text('2', 938, 668, 14, { rotation: cw }),
    text('/', 923, 675, 24, { rotation: cw }), text('T', 917, 687, 18, { rotation: cw }), text('2', 919, 697, 13, { rotation: cw }),
    text('B', 479, 818, 23, { rotation: -0.45 }), text('u', 490, 827, 13, { rotation: -0.45 }), text('(mT)', 513, 837, 22, { rotation: -0.45 }),
    text('B', 672, 847, 23), text('c', 684, 856, 13), text('(mT)', 711, 846, 22)
];

var legendFormatter = function (name) {
    if (name.indexOf('Fe2CoGe') === 0) return '{n|Fe}{s|2}{n|CoGe}';
    return '{n|' + name + '}';
};
var legendStyle = function (size) {
    return {
        fontFamily: SERIF, fontSize: size, color: '#111',
        rich: { n: { fontFamily: SERIF, fontSize: size, color: '#111', lineHeight: 26 }, s: { fontFamily: SERIF, fontSize: 13, color: '#111', verticalAlign: 'bottom', lineHeight: 26 } }
    };
};
// bare stroke for the legend: the two empty corners keep the box as wide and tall as the item
var lineIcon = 'path://M0 6 L50 6 L50 7.6 L0 7.6 Z M0 0 L0.01 0 Z M50 14 L49.99 14 Z';

var chart = echarts.init(document.getElementById('chart'), null, { renderer: 'canvas' });
chart.setOption({
    animation: false,
    backgroundColor: '#fff',
    tooltip: { show: false },
    grid: grids,
    xAxis: xAxes,
    yAxis: yAxes,
    legend: [
        { left: 128, top: 15, padding: 0, itemWidth: 50, itemHeight: 14, selectedMode: false, data: [{ name: 'Fe2CoGe', icon: lineIcon }], formatter: legendFormatter, textStyle: legendStyle(22) },
        { left: 147, top: 489, padding: 0, orient: 'vertical', itemGap: 10, itemWidth: 50, itemHeight: 14, selectedMode: false, data: ['Fe2CoGe SFD', { name: 'Lorentz fitting', icon: lineIcon }], formatter: legendFormatter, textStyle: legendStyle(23) }
    ],
    visualMap: [
        { type: 'continuous', seriesIndex: [heatIndex, heatIndex + 1, heatIndex + 2, heatIndex + 3], min: -0.78, max: 2.11, left: 770, top: 59, padding: 0, itemWidth: 22.6, itemHeight: 228, calculable: false, hoverLink: false, inRange: { color: colorbarColors } },
        { type: 'continuous', seriesIndex: [], min: -0.78, max: 2.11, left: 837, top: 535, padding: 0, itemWidth: 20, itemHeight: 232, calculable: false, hoverLink: false, inRange: { color: colorbarColors } }
    ],
    graphic: { elements: graphicElements },
    series: series
});
</script>
</body>
</html>
